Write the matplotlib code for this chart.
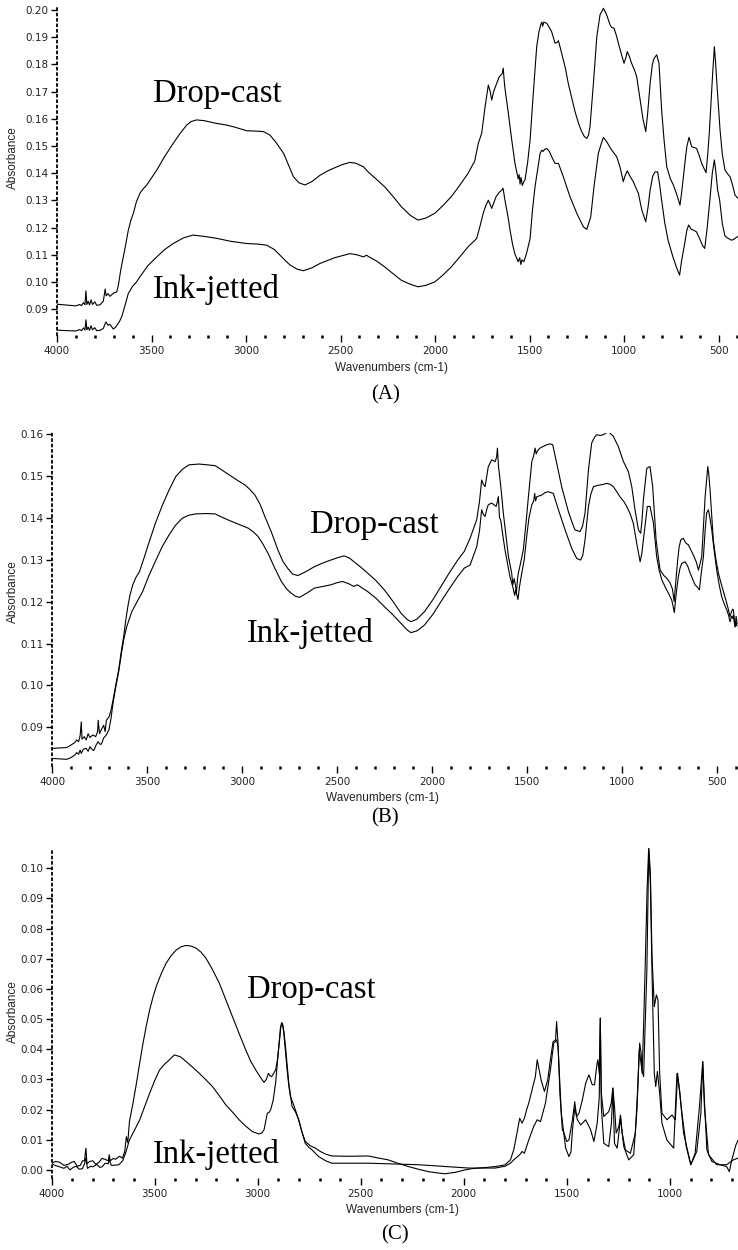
import matplotlib
matplotlib.use("Agg")
import matplotlib.pyplot as plt
from matplotlib.ticker import MultipleLocator, FormatStrFormatter

# spectra as (wavenumber cm-1, absorbance) pairs

# ---- panel A ----
a_drop = [(4000, .0919), (3950, .0916), (3900, .0913), (3880, .0918), (3870, .0914), (3860, .0925),
          (3852, .0917), (3847, .0968), (3842, .0918), (3835, .0930), (3828, .0916), (3820, .0935),
          (3812, .0918), (3800, .0928), (3790, .0915), (3772, .0917), (3755, .0930), (3745, .0975),
          (3740, .0950), (3730, .0958), (3720, .0948), (3700, .0960), (3684, .0964), (3675, .0990),
          (3663, .1044), (3650, .1090), (3640, .1125), (3623, .1190), (3610, .1225), (3596, .1253),
          (3580, .1295), (3561, .1327), (3545, .1342), (3525, .1357), (3500, .1383), (3472, .1412),
          (3430, .1462), (3385, .1510), (3350, .1545), (3314, .1577), (3290, .1590), (3261, .1596),
          (3220, .1593), (3155, .1583), (3110, .1578), (3067, .1571), (3030, .1563), (2996, .1556),
          (2950, .1555), (2908, .1553), (2873, .1540), (2840, .1512), (2801, .1473), (2775, .1430),
          (2749, .1387), (2720, .1365), (2688, .1357), (2650, .1370), (2608, .1393), (2570, .1408),
          (2538, .1418), (2490, .1432), (2450, .1440), (2420, .1437), (2379, .1424), (2354, .1405),
          (2310, .1378), (2266, .1350), (2220, .1313), (2178, .1277), (2130, .1245), (2090, .1228),
          (2050, .1235), (2001, .1253), (1960, .1280), (1914, .1314), (1870, .1355), (1825, .1400),
          (1790, .1445), (1771, .1510), (1753, .1547), (1735, .1645), (1718, .1724), (1708, .1700),
          (1700, .1669), (1690, .1700), (1677, .1724), (1660, .1755), (1645, .1765), (1639, .1786),
          (1634, .1740), (1630, .1712), (1612, .1620), (1594, .1522), (1577, .1436), (1560, .1380),
          (1555, .1395), (1550, .1360), (1545, .1385), (1538, .1355), (1530, .1370), (1524, .1375),
          (1510, .1440), (1497, .1522), (1480, .1694), (1462, .1865), (1450, .1920), (1441, .1945),
          (1435, .1955), (1430, .1940), (1425, .1955), (1409, .1951), (1395, .1935), (1383, .1920),
          (1365, .1878), (1355, .1880), (1347, .1887), (1330, .1841), (1310, .1785), (1295, .1730),
          (1259, .1626), (1240, .1582), (1224, .1553), (1210, .1535), (1197, .1528), (1188, .1540),
          (1180, .1571), (1162, .1730), (1144, .1902), (1127, .1982), (1109, .2006), (1092, .1982),
          (1074, .1945), (1065, .1935), (1053, .1933), (1040, .1905), (1030, .1878), (1015, .1840),
          (1000, .1804), (990, .1825), (983, .1847), (972, .1830), (960, .1804), (945, .1780),
          (933, .1755), (915, .1669), (900, .1600), (885, .1553), (875, .1620), (862, .1730),
          (850, .1800), (841, .1822), (827, .1835), (815, .1804), (808, .1720), (801, .1632),
          (788, .1520), (774, .1424), (755, .1380), (739, .1357), (720, .1320), (704, .1283),
          (695, .1330), (686, .1387), (676, .1450), (668, .1497), (656, .1532), (642, .1497),
          (630, .1495), (616, .1491), (602, .1465), (589, .1436), (575, .1415), (566, .1402),
          (557, .1470), (549, .1547), (540, .1660), (531, .1767), (522, .1865), (516, .1810),
          (510, .1743), (500, .1640), (492, .1559), (480, .1470), (466, .1412), (452, .1398),
          (439, .1387), (425, .1355), (413, .1320), (397, .1308)]

a_ink = [(4000, .0824), (3950, .0822), (3900, .0821), (3880, .0826), (3870, .0822), (3860, .0832),
         (3852, .0824), (3847, .0862), (3842, .0825), (3835, .0835), (3828, .0823), (3820, .0840),
         (3812, .0825), (3800, .0833), (3790, .0822), (3772, .0823), (3755, .0830), (3745, .0848),
         (3741, .0854), (3730, .0842), (3720, .0845), (3702, .0828), (3690, .0835), (3680, .0845),
         (3670, .0855), (3658, .0872), (3640, .0915), (3623, .0958), (3600, .0985), (3580, .1000),
         (3561, .1020), (3520, .1060), (3472, .1093), (3430, .1120), (3385, .1142), (3330, .1163),
         (3280, .1173), (3220, .1168), (3155, .1161), (3080, .1150), (2996, .1142), (2940, .1140),
         (2891, .1136), (2850, .1120), (2820, .1099), (2790, .1078), (2767, .1063), (2730, .1048),
         (2696, .1042), (2650, .1053), (2608, .1069), (2530, .1090), (2450, .1105), (2410, .1100),
         (2379, .1093), (2362, .1099), (2354, .1095), (2310, .1078), (2266, .1056), (2220, .1030),
         (2178, .1007), (2130, .0992), (2090, .0983), (2050, .0988), (2001, .1001), (1960, .1025),
         (1914, .1056), (1870, .1092), (1825, .1130), (1780, .1160), (1763, .1203), (1745, .1253),
         (1732, .1280), (1718, .1301), (1708, .1285), (1700, .1271), (1690, .1290), (1677, .1314),
         (1660, .1330), (1647, .1338), (1640, .1345), (1630, .1301), (1615, .1245), (1603, .1191),
         (1590, .1140), (1578, .1105), (1560, .1075), (1552, .1090), (1546, .1065), (1540, .1082),
         (1530, .1075), (1516, .1105), (1497, .1160), (1485, .1260), (1471, .1350), (1455, .1424),
         (1444, .1473), (1435, .1485), (1428, .1480), (1420, .1488), (1409, .1491), (1395, .1480),
         (1383, .1461), (1365, .1436), (1347, .1436), (1321, .1387), (1286, .1314), (1250, .1253),
         (1215, .1203), (1197, .1194), (1176, .1240), (1159, .1350), (1136, .1473), (1120, .1510),
         (1109, .1532), (1092, .1516), (1065, .1485), (1039, .1461), (1020, .1420), (1004, .1369),
         (995, .1390), (983, .1409), (965, .1385), (951, .1369), (924, .1326), (906, .1265),
         (885, .1222), (872, .1280), (862, .1338), (848, .1390), (836, .1405), (822, .1405),
         (812, .1360), (801, .1301), (785, .1220), (767, .1154), (740, .1090), (720, .1050),
         (706, .1026), (695, .1080), (679, .1142), (668, .1190), (658, .1210), (645, .1195),
         (630, .1190), (617, .1185), (600, .1160), (585, .1135), (573, .1124), (560, .1200),
         (546, .1301), (533, .1400), (522, .1449), (515, .1410), (505, .1340), (494, .1301),
         (480, .1215), (466, .1170), (452, .1162), (431, .1154), (418, .1158), (405, .1165),
         (397, .1168)]

# ---- panel B ----
b_drop = [(4000, .0850), (3960, .0851), (3922, .0852), (3900, .0858), (3880, .0864), (3870, .0870),
          (3860, .0866), (3852, .0880), (3846, .0913), (3842, .0872), (3830, .0878), (3820, .0870),
          (3810, .0885), (3800, .0876), (3785, .0882), (3770, .0878), (3760, .0890), (3757, .0917),
          (3750, .0885), (3740, .0895), (3728, .0905), (3720, .0890), (3714, .0917), (3700, .0925),
          (3690, .0940), (3679, .0965), (3665, .1000), (3649, .1037), (3636, .1080), (3623, .1116),
          (3612, .1155), (3601, .1188), (3590, .1215), (3575, .1240), (3558, .1258), (3540, .1271),
          (3515, .1305), (3488, .1343), (3455, .1388), (3418, .1431), (3385, .1465), (3349, .1498),
          (3315, .1515), (3280, .1526), (3227, .1528), (3180, .1526), (3141, .1524), (3100, .1512),
          (3054, .1498), (3020, .1488), (2984, .1478), (2960, .1468), (2932, .1454), (2905, .1432),
          (2880, .1403), (2845, .1365), (2811, .1323), (2785, .1296), (2759, .1279), (2735, .1266),
          (2707, .1262), (2670, .1270), (2620, .1283), (2575, .1292), (2533, .1299), (2495, .1305),
          (2463, .1309), (2435, .1304), (2411, .1295), (2380, .1284), (2339, .1268), (2295, .1250),
          (2251, .1228), (2205, .1200), (2163, .1172), (2130, .1157), (2111, .1152), (2080, .1158),
          (2040, .1176), (1995, .1205), (1953, .1236), (1910, .1268), (1865, .1299), (1830, .1320),
          (1800, .1351), (1765, .1395), (1750, .1440), (1739, .1490), (1730, .1480), (1721, .1474),
          (1712, .1500), (1704, .1522), (1686, .1538), (1668, .1534), (1660, .1545), (1656, .1566),
          (1650, .1520), (1646, .1506), (1635, .1460), (1625, .1411), (1598, .1307), (1581, .1268),
          (1575, .1240), (1568, .1255), (1563, .1244), (1556, .1222), (1550, .1255), (1546, .1268),
          (1535, .1290), (1520, .1323), (1505, .1390), (1493, .1450), (1475, .1534), (1465, .1548),
          (1458, .1566), (1452, .1552), (1445, .1560), (1432, .1566), (1415, .1570), (1397, .1574),
          (1380, .1576), (1365, .1574), (1344, .1530), (1318, .1474), (1283, .1415), (1260, .1385),
          (1248, .1371), (1221, .1367), (1208, .1380), (1195, .1411), (1177, .1514), (1160, .1578),
          (1145, .1592), (1133, .1598), (1115, .1596), (1098, .1598), (1085, .1602), (1072, .1605),
          (1060, .1600), (1046, .1594), (1020, .1570), (993, .1534), (967, .1510), (949, .1474),
          (932, .1419), (914, .1371), (902, .1363), (895, .1395), (888, .1442), (870, .1518),
          (853, .1522), (839, .1474), (830, .1410), (821, .1347), (800, .1275), (780, .1262),
          (765, .1256), (747, .1244), (735, .1230), (726, .1200), (718, .1245), (709, .1291),
          (700, .1330), (691, .1347), (678, .1351), (665, .1340), (651, .1335), (625, .1311),
          (610, .1295), (598, .1275), (590, .1290), (581, .1307), (572, .1380), (563, .1450),
          (549, .1522), (543, .1500), (537, .1466), (520, .1347), (506, .1300), (493, .1268),
          (480, .1245), (467, .1224), (458, .1210), (449, .1196), (440, .1180), (432, .1164),
          (425, .1175), (418, .1182), (414, .1180), (409, .1155), (405, .1140), (400, .1165),
          (395, .1148)]

b_ink = [(4000, .0826), (3960, .0825), (3922, .0824), (3900, .0828), (3880, .0834), (3870, .0840),
         (3860, .0836), (3852, .0846), (3846, .0838), (3835, .0848), (3820, .0850), (3810, .0843),
         (3800, .0854), (3790, .0848), (3780, .0845), (3768, .0858), (3757, .0866), (3748, .0860),
         (3740, .0860), (3728, .0875), (3714, .0882), (3700, .0895), (3690, .0920), (3679, .0957),
         (3665, .0995), (3649, .1033), (3636, .1072), (3623, .1108), (3607, .1140), (3592, .1160),
         (3580, .1176), (3566, .1188), (3545, .1206), (3523, .1224), (3490, .1262), (3453, .1299),
         (3420, .1331), (3384, .1359), (3350, .1382), (3314, .1399), (3280, .1406), (3245, .1409),
         (3190, .1410), (3141, .1409), (3100, .1400), (3054, .1391), (3010, .1383), (2967, .1375),
         (2940, .1366), (2915, .1355), (2890, .1337), (2863, .1315), (2830, .1282), (2793, .1248),
         (2765, .1230), (2741, .1220), (2720, .1213), (2698, .1210), (2660, .1220), (2620, .1232),
         (2575, .1236), (2533, .1240), (2500, .1245), (2472, .1248), (2440, .1243), (2411, .1236),
         (2395, .1240), (2385, .1238), (2370, .1233), (2339, .1224), (2295, .1208), (2251, .1188),
         (2205, .1168), (2163, .1148), (2130, .1132), (2111, .1126), (2080, .1130), (2040, .1144),
         (1995, .1170), (1953, .1200), (1910, .1230), (1865, .1260), (1830, .1280), (1800, .1287),
         (1765, .1331), (1750, .1370), (1739, .1419), (1730, .1408), (1721, .1403), (1712, .1420),
         (1704, .1431), (1686, .1435), (1663, .1427), (1655, .1440), (1651, .1450), (1645, .1400),
         (1639, .1395), (1625, .1350), (1616, .1323), (1590, .1259), (1575, .1235), (1565, .1215),
         (1560, .1228), (1554, .1216), (1548, .1205), (1540, .1235), (1528, .1268), (1515, .1300),
         (1502, .1355), (1490, .1400), (1475, .1431), (1465, .1440), (1460, .1458), (1455, .1440),
         (1449, .1450), (1423, .1454), (1405, .1460), (1388, .1462), (1362, .1458), (1335, .1419),
         (1300, .1371), (1265, .1327), (1239, .1303), (1218, .1299), (1207, .1310), (1195, .1347),
         (1177, .1427), (1165, .1455), (1151, .1474), (1130, .1477), (1116, .1478), (1095, .1480),
         (1081, .1482), (1060, .1479), (1046, .1474), (1028, .1462), (1011, .1450), (990, .1438),
         (976, .1427), (958, .1410), (941, .1387), (923, .1339), (905, .1295), (896, .1315),
         (888, .1347), (867, .1427), (853, .1427), (843, .1405), (835, .1387), (818, .1307),
         (805, .1275), (791, .1252), (770, .1232), (756, .1220), (739, .1204), (732, .1190),
         (725, .1174), (715, .1220), (704, .1259), (695, .1280), (686, .1291), (669, .1295),
         (655, .1285), (642, .1268), (630, .1255), (616, .1240), (605, .1235), (593, .1228),
         (585, .1262), (572, .1307), (563, .1370), (555, .1411), (546, .1419), (538, .1400),
         (528, .1371), (515, .1320), (502, .1275), (489, .1240), (476, .1212), (463, .1195),
         (449, .1180), (440, .1168), (432, .1152), (424, .1165), (418, .1160), (414, .1168),
         (409, .1148), (405, .1140), (400, .1150), (395, .1142)]

# ---- panel C ----
c_drop = [(4000, .0022), (3980, .0028), (3960, .0025), (3940, .0015), (3920, .0018), (3900, .0026),
          (3890, .0028), (3875, .0012), (3860, .0015), (3850, .0030), (3840, .0030), (3833, .0072),
          (3828, .0020), (3815, .0028), (3800, .0030), (3785, .0018), (3770, .0025), (3755, .0038),
          (3740, .0035), (3725, .0030), (3720, .0050), (3715, .0030), (3700, .0038), (3690, .0035),
          (3670, .0045), (3656, .0039), (3645, .0060), (3637, .0110), (3630, .0090), (3622, .0160),
          (3605, .0220), (3588, .0287), (3572, .0355), (3556, .0420), (3540, .0478), (3524, .0530),
          (3508, .0572), (3492, .0608), (3468, .0650), (3444, .0685), (3420, .0710), (3395, .0729),
          (3370, .0740), (3347, .0744), (3323, .0742), (3299, .0735), (3275, .0722), (3251, .0702),
          (3220, .0665), (3186, .0619), (3155, .0565), (3122, .0508), (3090, .0452), (3058, .0398),
          (3035, .0362), (3009, .0331), (2985, .0305), (2969, .0290), (2958, .0300), (2948, .0320),
          (2940, .0312), (2932, .0309), (2913, .0331), (2905, .0360), (2897, .0409), (2888, .0470),
          (2884, .0488), (2878, .0480), (2873, .0453), (2865, .0390), (2857, .0331), (2849, .0280),
          (2841, .0243), (2825, .0215), (2813, .0190), (2801, .0166), (2785, .0125), (2769, .0094),
          (2745, .0080), (2720, .0072), (2696, .0061), (2670, .0052), (2640, .0046), (2560, .0045),
          (2463, .0046), (2420, .0040), (2366, .0033), (2320, .0022), (2269, .0011), (2220, .0002),
          (2171, -.0006), (2130, -.0010), (2091, -.0013), (2040, -.0008), (1993, .0000), (1960, .0004),
          (1929, .0006), (1890, .0008), (1848, .0011), (1820, .0014), (1799, .0017), (1774, .0033),
          (1758, .0066), (1742, .0122), (1729, .0171), (1717, .0155), (1706, .0171), (1695, .0200),
          (1685, .0221), (1669, .0265), (1653, .0309), (1644, .0365), (1636, .0337), (1625, .0298),
          (1609, .0260), (1593, .0298), (1580, .0365), (1567, .0425), (1555, .0431), (1550, .0492),
          (1543, .0420), (1534, .0254), (1522, .0133), (1514, .0122), (1501, .0094), (1490, .0099),
          (1473, .0166), (1462, .0226), (1453, .0177), (1441, .0188), (1425, .0232), (1409, .0287),
          (1393, .0315), (1377, .0282), (1366, .0282), (1356, .0342), (1350, .0365), (1343, .0320),
          (1338, .0503), (1333, .0254), (1321, .0177), (1297, .0193), (1285, .0221), (1277, .0271),
          (1269, .0210), (1261, .0122), (1248, .0144), (1240, .0182), (1232, .0122), (1216, .0066),
          (1192, .0055), (1168, .0122), (1157, .0265), (1147, .0420), (1140, .0387), (1135, .0320),
          (1128, .0475), (1119, .0707), (1111, .0928), (1103, .1072), (1095, .0983), (1087, .0707),
          (1076, .0541), (1066, .0580), (1058, .0563), (1050, .0320), (1039, .0188), (1015, .0166),
          (990, .0182), (974, .0166), (963, .0320), (953, .0260), (942, .0188), (921, .0077),
          (899, .0017), (878, .0055), (857, .0210), (841, .0359), (833, .0232), (821, .0066),
          (797, .0028), (757, .0017), (725, .0011), (712, -.0006), (700, .0033), (680, .0083),
          (670, .0098)]

c_ink = [(4000, .0022), (3985, .0015), (3960, .0010), (3940, .0005), (3925, .0012), (3911, .0000),
         (3895, .0008), (3880, .0012), (3865, .0002), (3850, .0004), (3840, .0020), (3833, .0040),
         (3826, .0005), (3810, .0012), (3800, .0010), (3780, .0018), (3765, .0008), (3753, .0011),
         (3740, .0022), (3725, .0020), (3720, .0035), (3710, .0015), (3700, .0015), (3673, .0017),
         (3655, .0030), (3641, .0055), (3622, .0099), (3597, .0132), (3572, .0166), (3548, .0210),
         (3524, .0254), (3500, .0295), (3476, .0331), (3452, .0350), (3428, .0365), (3404, .0381),
         (3375, .0375), (3347, .0359), (3315, .0340), (3283, .0320), (3250, .0298), (3219, .0276),
         (3185, .0245), (3154, .0215), (3120, .0190), (3090, .0166), (3058, .0145), (3026, .0127),
         (2995, .0119), (2980, .0122), (2969, .0133), (2960, .0165), (2953, .0188), (2945, .0190),
         (2937, .0199), (2925, .0230), (2913, .0287), (2900, .0390), (2889, .0475), (2881, .0486),
         (2873, .0460), (2865, .0409), (2849, .0287), (2833, .0210), (2815, .0190), (2801, .0166),
         (2785, .0125), (2769, .0088), (2752, .0075), (2736, .0066), (2720, .0055), (2704, .0044),
         (2670, .0030), (2640, .0022), (2463, .0022), (2220, .0017), (1977, .0006), (1848, .0006),
         (1800, .0012), (1774, .0022), (1758, .0033), (1729, .0050), (1717, .0061), (1706, .0055),
         (1685, .0099), (1661, .0144), (1644, .0166), (1628, .0160), (1604, .0221), (1580, .0331),
         (1564, .0420), (1555, .0425), (1550, .0431), (1543, .0409), (1527, .0188), (1506, .0072),
         (1490, .0044), (1480, .0060), (1473, .0133), (1462, .0204), (1449, .0166), (1433, .0149),
         (1409, .0166), (1385, .0133), (1369, .0094), (1353, .0155), (1343, .0240), (1338, .0503),
         (1333, .0210), (1321, .0088), (1297, .0077), (1284, .0155), (1277, .0271), (1269, .0088),
         (1256, .0072), (1240, .0171), (1224, .0077), (1200, .0033), (1176, .0050), (1160, .0199),
         (1149, .0398), (1136, .0331), (1128, .0309), (1112, .0663), (1103, .1061), (1095, .0950),
         (1087, .0650), (1076, .0320), (1069, .0276), (1061, .0326), (1050, .0254), (1039, .0155),
         (1015, .0099), (982, .0072), (966, .0320), (953, .0260), (934, .0122), (899, .0017),
         (870, .0061), (850, .0188), (841, .0359), (833, .0210), (813, .0050), (773, .0017),
         (725, .0017), (693, .0033), (670, .0039)]

labels = ["Drop-cast", "Ink-jetted"]
panel_names = ["(A)", "(B)", "(C)"]

W, H = 738, 1250
fig = plt.figure(figsize=(W / 100, H / 100), dpi=100)


def px(x, y):
    """pixel position -> figure fraction"""
    return x / W, 1 - y / H


def make_axes(left, right, top, bottom, xlim, ylim):
    ax = fig.add_axes([left / W, 1 - bottom / H, (right - left) / W, (bottom - top) / H])
    ax.set_xlim(*xlim)
    ax.set_ylim(*ylim)
    for s in ["top", "right", "bottom"]:
        ax.spines[s].set_visible(False)
    ax.spines["left"].set_linestyle((0, (1, 2)))
    ax.spines["left"].set_linewidth(1.3)
    ax.xaxis.set_major_locator(MultipleLocator(500))
    ax.xaxis.set_minor_locator(MultipleLocator(100))
    ax.yaxis.set_major_locator(MultipleLocator(0.01))
    ax.yaxis.set_major_formatter(FormatStrFormatter("%.2f"))
    ax.tick_params(axis="x", which="major", length=5, width=1.0, pad=3, labelsize=7.5,
                   labelcolor="#222222")
    ax.tick_params(axis="x", which="minor", length=2, width=1.8)
    ax.tick_params(axis="y", which="major", length=4, width=1.0, pad=2, labelsize=7.5,
                   labelcolor="#222222")
    ax.patch.set_alpha(0)
    return ax


def draw(ax, series):
    wn, ab = zip(*series)
    ax.plot(wn, ab, color="black", lw=0.8)


serif = "Liberation Serif"
sans = "Liberation Sans"

axA = make_axes(57, 738, 5, 335, (4000, 397), (0.0806, 0.2018))
draw(axA, a_drop)
draw(axA, a_ink)

axB = make_axes(52, 738, 433, 766, (4000, 390), (0.0808, 0.1602))
draw(axB, b_drop)
draw(axB, b_ink)

axC = make_axes(51.5, 738, 848, 1177.7, (4000, 670), (-0.0026, 0.1067))
draw(axC, c_drop)
draw(axC, c_ink)

for ax_lab_y, wn_x, wn_y, pn_x, pn_y, name in [(158, 391, 368, 386, 395, panel_names[0]),
                                                (592, 382, 798, 385, 818, panel_names[1]),
                                                (1012, 403, 1210, 395, 1235, panel_names[2])]:
    fig.text(*px(13, ax_lab_y), "Absorbance", rotation=90, ha="center", va="center",
             fontsize=8.5, family=sans, color="#222222")
    fig.text(*px(wn_x, wn_y), "Wavenumbers (cm-1)", ha="center", va="center",
             fontsize=8.5, family=sans, color="#222222")
    fig.text(*px(pn_x, pn_y), name, ha="center", va="center", fontsize=15, family=serif)

for x, y, s in [(153, 102, labels[0]), (153, 298, labels[1]),
                (310, 533, labels[0]), (247, 642, labels[1]),
                (247, 998, labels[0]), (153, 1163, labels[1])]:
    fig.text(*px(x, y), s, ha="left", va="baseline", fontsize=23.5, family=serif)

fig.savefig("out.png", dpi=100)
